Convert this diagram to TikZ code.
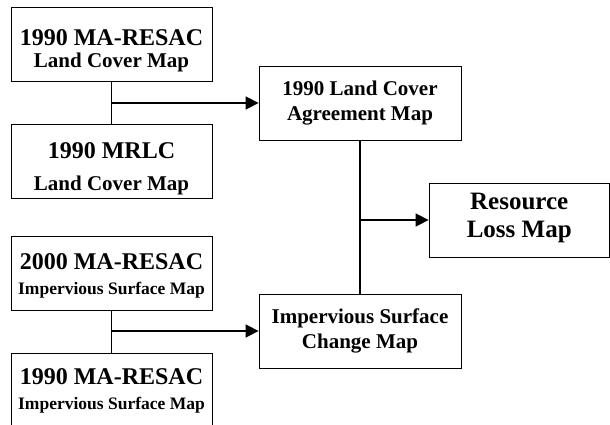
\documentclass[tikz,border=0pt]{standalone}
\usepackage{fontspec}
\setmainfont{Liberation Serif}
\usetikzlibrary{arrows.meta,calc}

\newcommand{\topline}[1]{{\fontsize{24}{25}\selectfont #1}}
\newcommand{\smallline}[1]{{\fontsize{17.5}{25}\selectfont #1}}

\begin{document}
\begin{tikzpicture}[x=1pt,y=-1pt]
            \tikzstyle{every node}=[draw,line width=0.8pt,align=center,font=\bfseries\fontsize{21}{25}\selectfont,minimum height=74pt,inner sep=0pt]
            \tikzstyle{link}=[line width=1.6pt]
            \tikzstyle{feed}=[link,-{Triangle[length=13pt,width=13pt]}]
            \clip (0,0) rectangle (610,424);
            \node[minimum width=201pt] (lc90) at (111.5,44.5) {\rule{0pt}{29pt}\topline{1990 MA-RESAC}\\[-3pt]Land Cover Map};
            \node[minimum width=201pt] (mrlc) at (111.5,161.5) {\rule{0pt}{30pt}\topline{1990 MRLC}\\[7pt]Land Cover Map};
            \node[minimum width=201pt] (is00) at (111.5,273) {\rule{0pt}{22pt}\topline{2000 MA-RESAC}\\\smallline{Impervious Surface Map}};
            \node[minimum width=201pt] (is90) at (111.5,390.5) {\topline{1990 MA-RESAC}\\\smallline{Impervious Surface Map}};
            \node[minimum width=202pt] (agree) at (360,103) {1990 Land Cover\\Agreement Map};
            \node[minimum width=202pt] (change) at (360,331) {Impervious Surface\\Change Map};
            \node[minimum width=180.5pt,font=\bfseries\fontsize{25}{28}\selectfont] (loss) at (519.25,220) {Resource\\Loss Map\rule[-9.5pt]{0pt}{9.5pt}};
            \coordinate (j1) at (lc90.south |- agree.west);
            \coordinate (j2) at (is00.south |- change.west);
            \coordinate (j3) at (agree.south |- loss.west);
            \draw[link] (lc90.south)--(mrlc.north);
            \draw[feed] (j1)--(agree.west);
            \draw[link] (is00.south)--(is90.north);
            \draw[feed] (j2)--(change.west);
            \draw[link] (agree.south)--(change.north);
            \draw[feed] (j3)--(loss.west);
        \end{tikzpicture}
\end{document}
